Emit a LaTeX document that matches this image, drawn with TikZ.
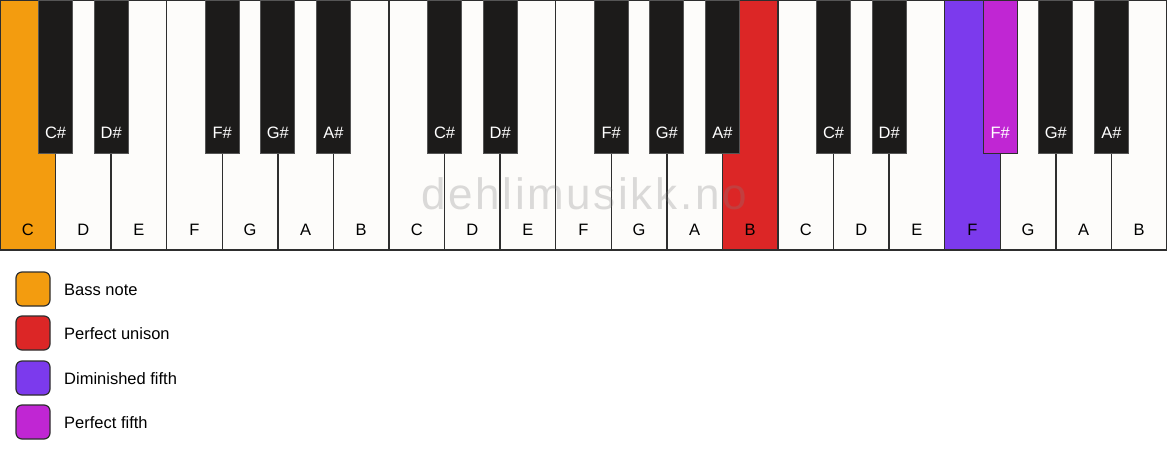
\documentclass[tikz,border=0pt]{standalone}
\usepackage{fontspec}
\setmainfont{Liberation Sans}
\newfontfamily\wmfont[LetterSpace=6]{Liberation Sans}
\definecolor{keywhite}{HTML}{FDFCFA}
\definecolor{keyblack}{HTML}{1C1B1A}
\definecolor{keyline}{HTML}{2E2E2E}
\definecolor{blackline}{HTML}{555555}
\definecolor{cbass}{HTML}{F39C0F}
\definecolor{cunison}{HTML}{DC2626}
\definecolor{cdim}{HTML}{7C3AED}
\definecolor{cfifth}{HTML}{C026D3}
\begin{document}
\begin{tikzpicture}[x=1pt,y=-1pt,
  whitekey/.style={draw=keyline, line width=1.3pt, fill=keywhite, minimum width=55.571pt, minimum height=250pt, inner sep=0pt, outer sep=0pt, anchor=north west},
  blackkey/.style={draw=blackline, line width=0.8pt, fill=keyblack, minimum width=34pt, minimum height=153pt, inner sep=0pt, outer sep=0pt, anchor=north},
  wlabel/.style={font=\fontsize{16.5}{19}\selectfont, text=black, inner sep=0pt},
  blabel/.style={font=\fontsize{16.5}{19}\selectfont, text=white, inner sep=0pt},
  legbox/.style={draw=keyline, line width=1.2pt, rounded corners=6pt, minimum size=34pt, inner sep=0pt},
  legtext/.style={font=\fontsize{16.5}{19}\selectfont, anchor=west, inner sep=0pt}]
\useasboundingbox (0,0) rectangle (1167,461);
\fill[white] (0,0) rectangle (1167,461);
% white keys
\foreach \n [count=\i from 0] in {C,D,E,F,G,A,B,C,D,E,F,G,A,B,C,D,E,F,G,A,B} {
  \pgfmathsetmacro{\xx}{\i*55.571}
  \ifnum\i=0 \def\kf{cbass}\else\ifnum\i=13 \def\kf{cunison}\else\ifnum\i=17 \def\kf{cdim}\else\def\kf{keywhite}\fi\fi\fi
  \node[whitekey, fill=\kf] (w\i) at (\xx,0) {};
  \node[wlabel] (wl\i) at (\xx+27.786,230) {\n};
}
% black keys
\foreach \b/\n in {1/C\#,2/D\#,4/F\#,5/G\#,6/A\#,8/C\#,9/D\#,11/F\#,12/G\#,13/A\#,15/C\#,16/D\#,18/F\#,19/G\#,20/A\#} {
  \pgfmathsetmacro{\xx}{\b*55.571}
  \ifnum\b=18
    \node[blackkey, fill=cfifth, draw=keyline] (b\b) at (\xx,0) {};
  \else
    \node[blackkey] (b\b) at (\xx,0) {};
  \fi
  \node[blabel] (bl\b) at (\xx,133) {\n};
}
% watermark
\node[font=\wmfont\fontsize{44}{44}\selectfont, text=gray, text opacity=0.28, anchor=base, inner sep=0pt] (wm) at (584,209) {dehlimusikk.no};
% legend
\node[legbox, fill=cbass] (lg1) at (33,289) {};
\node[legtext] (lt1) at (64,290) {Bass note};
\node[legbox, fill=cunison] (lg2) at (33,333) {};
\node[legtext] (lt2) at (64,334) {Perfect unison};
\node[legbox, fill=cdim] (lg3) at (33,378) {};
\node[legtext] (lt3) at (64,379) {Diminished fifth};
\node[legbox, fill=cfifth] (lg4) at (33,422) {};
\node[legtext] (lt4) at (64,423) {Perfect fifth};
\end{tikzpicture}
\end{document}
